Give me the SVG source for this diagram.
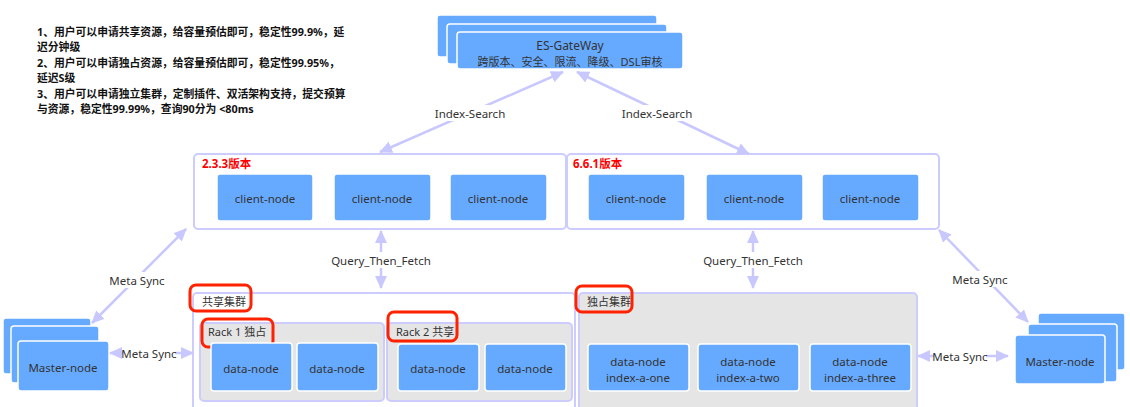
<svg xmlns="http://www.w3.org/2000/svg" width="1130" height="407" viewBox="0 0 1130 407">
<defs>
<style>
text{font-family:"Noto Sans","Noto Sans CJK SC","Liberation Sans",sans-serif;fill:#333;}
.node{fill:#66aaff;stroke:#ffffff;stroke-width:1.5;}
.lbl{font-size:11.5px;text-anchor:middle;dominant-baseline:central;}
.frame{fill:#ffffff;stroke:#ccccff;stroke-width:2;}
.gframe{fill:#e5e5e5;stroke:#ccccff;stroke-width:2;}
.hl{fill:none;stroke:#ff2200;stroke-width:3;}
.ver{font-size:11.5px;font-weight:bold;fill:#ff0000;}
.note{font-size:10.8px;font-weight:bold;fill:#111;}
.conn{stroke:#c8c8ff;stroke-width:2.5;fill:none;marker-start:url(#ah);marker-end:url(#ah);}
.bg{fill:#ffffff;}
.clab{font-size:11.5px;text-anchor:middle;dominant-baseline:central;fill:#333;}
.glab{font-size:11px;fill:#333;}
</style>
<marker id="ah" markerUnits="userSpaceOnUse" markerWidth="14" markerHeight="12" refX="12" refY="6" orient="auto-start-reverse">
<path d="M0,0 L13,6 L0,12 Z" fill="#c8c8ff"/>
</marker>
</defs>

<g id="notes">
<text class="note" x="37" y="36">1、用户可以申请共享资源，给容量预估即可，稳定性99.9%，延</text>
<text class="note" x="37" y="51">迟分钟级</text>
<text class="note" x="37" y="67">2、用户可以申请独占资源，给容量预估即可，稳定性99.95%，</text>
<text class="note" x="37" y="82">延迟S级</text>
<text class="note" x="37" y="98">3、用户可以申请独立集群，定制插件、双活架构支持，提交预算</text>
<text class="note" x="37" y="113">与资源，稳定性99.99%，查询90分为 &lt;80ms</text>
</g>

<g id="gateway">
<rect class="node" x="437" y="15" width="220" height="42" rx="3"/>
<rect class="node" x="447" y="24" width="220" height="40" rx="3"/>
<rect class="node" x="457" y="32" width="226" height="37" rx="3"/>
<text class="lbl" x="570" y="45" style="font-size:12px">ES-GateWay</text>
<text class="lbl" x="570" y="61" style="font-size:11px">跨版本、安全、限流、降级、DSL审核</text>
</g>

<g id="cluster-233">
<rect class="frame" x="194" y="154" width="372" height="75" rx="4"/>
<text class="ver" x="202" y="168">2.3.3版本</text>
<g id="client-1"><rect class="node" x="217" y="174" width="96" height="47" rx="3"/><text class="lbl" x="265" y="198">client-node</text></g>
<g id="client-2"><rect class="node" x="334" y="174" width="97" height="47" rx="3"/><text class="lbl" x="382" y="198">client-node</text></g>
<g id="client-3"><rect class="node" x="450" y="174" width="97" height="47" rx="3"/><text class="lbl" x="498" y="198">client-node</text></g>
</g>

<g id="cluster-661">
<rect class="frame" x="567" y="154" width="372" height="75" rx="4"/>
<text class="ver" x="573" y="168">6.6.1版本</text>
<g id="client-4"><rect class="node" x="588" y="174" width="97" height="47" rx="3"/><text class="lbl" x="636" y="198">client-node</text></g>
<g id="client-5"><rect class="node" x="706" y="174" width="97" height="47" rx="3"/><text class="lbl" x="754" y="198">client-node</text></g>
<g id="client-6"><rect class="node" x="822" y="174" width="97" height="47" rx="3"/><text class="lbl" x="870" y="198">client-node</text></g>
</g>

<g id="shared-cluster">
<rect class="frame" x="193" y="293" width="382" height="125" rx="4"/>
<text class="glab" x="202" y="306">共享集群</text>
<rect class="hl" x="190" y="285" width="61" height="26" rx="6"/>
<g id="rack1">
<rect class="gframe" x="200" y="323" width="184" height="78" rx="4"/>
<text class="glab" x="208" y="336">Rack 1 独占</text>
<rect class="hl" x="202" y="319" width="71" height="28" rx="6"/>
<g id="dn-1"><rect class="node" x="211" y="343" width="81" height="48" rx="3"/><text class="lbl" x="251" y="368">data-node</text></g>
<g id="dn-2"><rect class="node" x="297" y="343" width="81" height="48" rx="3"/><text class="lbl" x="337" y="368">data-node</text></g>
</g>
<g id="rack2">
<rect class="gframe" x="387" y="323" width="185" height="78" rx="4"/>
<text class="glab" x="396" y="336">Rack 2 共享</text>
<rect class="hl" x="388" y="312" width="69" height="29" rx="6"/>
<g id="dn-3"><rect class="node" x="398" y="344" width="81" height="47" rx="3"/><text class="lbl" x="438" y="368">data-node</text></g>
<g id="dn-4"><rect class="node" x="485" y="344" width="81" height="47" rx="3"/><text class="lbl" x="525" y="368">data-node</text></g>
</g>
</g>

<g id="dedicated-cluster">
<rect class="gframe" x="579" y="293" width="338" height="125" rx="4"/>
<text class="glab" x="587" y="306">独占集群</text>
<rect class="hl" x="576" y="286" width="56" height="26" rx="6"/>
<g id="dn-5"><rect class="node" x="588" y="344" width="101" height="47" rx="3"/><text class="lbl" x="638" y="361">data-node</text><text class="lbl" x="638" y="377">index-a-one</text></g>
<g id="dn-6"><rect class="node" x="698" y="344" width="101" height="47" rx="3"/><text class="lbl" x="748" y="361">data-node</text><text class="lbl" x="748" y="377">index-a-two</text></g>
<g id="dn-7"><rect class="node" x="810" y="344" width="101" height="47" rx="3"/><text class="lbl" x="860" y="361">data-node</text><text class="lbl" x="860" y="377">index-a-three</text></g>
</g>

<g id="master-left">
<rect class="node" x="3" y="318" width="88" height="56" rx="3"/>
<rect class="node" x="11" y="326" width="88" height="57" rx="3"/>
<rect class="node" x="18" y="341" width="91" height="50" rx="3"/>
<text class="lbl" x="63" y="367">Master-node</text>
</g>

<g id="master-right">
<rect class="node" x="1038" y="313" width="87" height="57" rx="3"/>
<rect class="node" x="1028" y="324" width="89" height="58" rx="3"/>
<rect class="node" x="1015" y="335" width="90" height="49" rx="3"/>
<text class="lbl" x="1060" y="361">Master-node</text>
</g>

<g id="connectors">
<line class="conn" x1="380" y1="152" x2="563" y2="72"/>
<line class="conn" x1="577" y1="72" x2="749" y2="154"/>
<line class="conn" x1="381" y1="231" x2="381" y2="288"/>
<line class="conn" x1="753" y1="231" x2="753" y2="288"/>
<line class="conn" x1="186" y1="229" x2="92" y2="323"/>
<line class="conn" x1="939" y1="230" x2="1028" y2="322"/>
<line class="conn" x1="110" y1="353" x2="193" y2="353"/>
<line class="conn" x1="918" y1="356" x2="1008" y2="356"/>
<rect class="bg" x="435" y="105" width="70" height="16"/><text class="clab" x="470" y="113">Index-Search</text>
<rect class="bg" x="622" y="105" width="70" height="16"/><text class="clab" x="657" y="113">Index-Search</text>
<rect class="bg" x="332" y="252" width="98" height="16"/><text class="clab" x="381" y="260">Query_Then_Fetch</text>
<rect class="bg" x="704" y="252" width="98" height="16"/><text class="clab" x="753" y="260">Query_Then_Fetch</text>
<rect class="bg" x="111" y="272" width="53" height="16"/><text class="clab" x="137" y="280">Meta Sync</text>
<rect class="bg" x="953" y="271" width="53" height="16"/><text class="clab" x="980" y="279">Meta Sync</text>
<rect class="bg" x="123" y="345" width="52" height="16"/><text class="clab" x="149" y="353">Meta Sync</text>
<rect class="bg" x="934" y="348" width="52" height="16"/><text class="clab" x="960" y="356">Meta Sync</text>
</g>
</svg>
